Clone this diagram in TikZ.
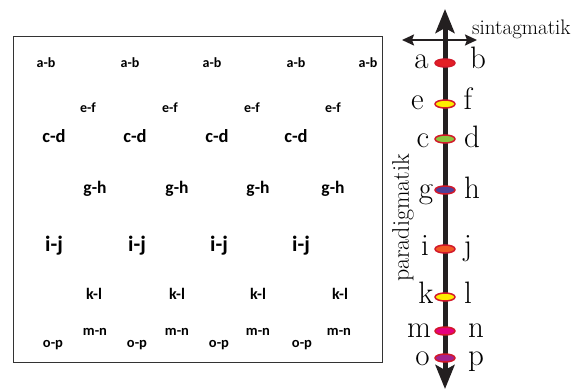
\documentclass[tikz,border=0pt]{standalone}
\usepackage{fontspec}
\newfontfamily\carlitofont{Carlito}
\usetikzlibrary{arrows.meta,shapes.geometric}
\definecolor{axisc}{HTML}{231F20}
\definecolor{ered}{HTML}{D2192B}
\definecolor{fa}{HTML}{E31E24}
\definecolor{fy}{HTML}{FFED00}
\definecolor{fg}{HTML}{8CC63F}
\definecolor{fb}{HTML}{4E3F99}
\definecolor{fo}{HTML}{F15A24}
\definecolor{fm}{HTML}{E5007E}
\definecolor{fp}{HTML}{A3238E}
\tikzset{
  pair/.style={font=\carlitofont\bfseries\fontsize{#1}{#1}\selectfont, inner sep=0pt},
  letter/.style={font=\fontsize{31}{31}\selectfont, inner sep=0pt, anchor=base},
  bead/.style={ellipse, draw=ered, line width=1.5pt, fill=#1, minimum width=20pt, minimum height=8pt, inner sep=0pt},
}
\begin{document}
\begin{tikzpicture}[x=1pt,y=-1pt]
\useasboundingbox (0,0) rectangle (580,390);
\node[draw=black!80, line width=0.8pt, minimum width=369pt, minimum height=326pt, inner sep=0pt] (box) at (197.5,199) {};
\foreach \x [count=\i] in {46,130,212,296,368} \node[pair=14] (ab\i) at (\x,63) {a-b};
\foreach \x [count=\i] in {88,170,252,333} \node[pair=14] (ef\i) at (\x,108) {e-f};
\foreach \x [count=\i] in {54,135,217,296} \node[pair=18.5] (cd\i) at (\x,136) {c-d};
\foreach \x [count=\i] in {95,177,258,333} \node[pair=17.5] (gh\i) at (\x,189) {g-h};
\foreach \x [count=\i] in {54,137,219,301} \node[pair=22] (ij\i) at (\x,246) {i-j};
\foreach \x [count=\i] in {94,177,258,340} \node[pair=16] (kl\i) at (\x,294) {k-l};
\foreach \x [count=\i] in {95,177,258,339} \node[pair=14.5] (mn\i) at (\x,332) {m-n};
\foreach \x [count=\i] in {53,137,219,302} \node[pair=14.5] (op\i) at (\x,345) {o-p};
% axes
\coordinate (vtop) at (445,9);
\coordinate (vbot) at (445,389);
\coordinate (hl) at (402,40);
\coordinate (hr) at (477,40);
\draw[axisc, line width=5pt, {Stealth[length=24pt,width=19pt,inset=5pt]}-{Stealth[length=24pt,width=19pt,inset=5pt]}] (vtop) -- (vbot);
\draw[axisc, line width=2pt, {Stealth[length=12pt,width=11pt,inset=2pt]}-{Stealth[length=12pt,width=11pt,inset=2pt]}] (hl) -- (hr);
\node[font=\fontsize{21}{21}\selectfont, anchor=base west, inner sep=0pt] (sin) at (472,35) {sintagmatik};
\node[font=\fontsize{24}{24}\selectfont, rotate=90, inner sep=0pt] (par) at (403,218) {paradigmatik};
% beads
\node[bead=fa] (ba) at (445,63) {};
\node[bead=fy] (be) at (445,104) {};
\node[bead=fg] (bc) at (445,139) {};
\node[bead=fb] (bg) at (445,190) {};
\node[bead=fo] (bi) at (445,249) {};
\node[bead=fy] (bk) at (445,297) {};
\node[bead=fm] (bm) at (445,331) {};
\node[bead=fp] (bo) at (445,358) {};
% letters
\node[letter] (la) at (421.5,69) {a};
\node[letter] (lb) at (478,69) {b};
\node[letter] (le) at (417.5,110) {e};
\node[letter] (lf) at (468,110) {f};
\node[letter] (lc) at (423,148) {c};
\node[letter] (ld) at (472,148) {d};
\node[letter] (lg) at (426,198) {g};
\node[letter] (lh) at (472,198) {h};
\node[letter] (li) at (425,255) {i};
\node[letter] (lj) at (468,255) {j};
\node[letter] (lk) at (426,303) {k};
\node[letter] (ll) at (468,303) {l};
\node[letter] (lm) at (419,337) {m};
\node[letter] (ln) at (476,337) {n};
\node[letter] (lo) at (422.5,365) {o};
\node[letter] (lp) at (476,365) {p};
\end{tikzpicture}
\end{document}
